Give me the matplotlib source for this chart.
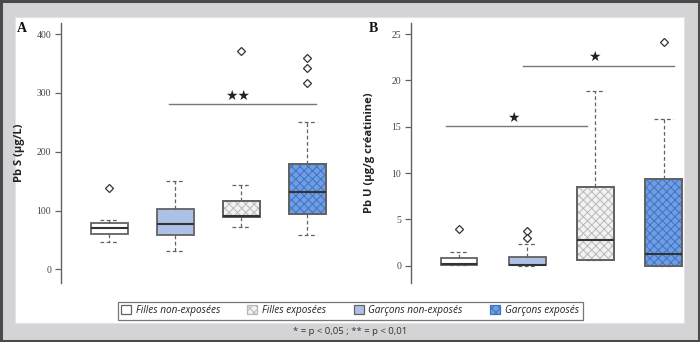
import matplotlib
matplotlib.use("Agg")
import matplotlib.pyplot as plt
from matplotlib.patches import Rectangle, Patch, PathPatch

# ---------------- data ----------------
categories = ["Filles non-exposées", "Garçons non-exposés", "Filles exposées", "Garçons exposés"]
legend_order = ["Filles non-exposées", "Filles exposées", "Garçons non-exposés", "Garçons exposés"]

# Panel A : Pb S (µg/L)
a_whislo = [46, 32, 73, 58]
a_q1 = [61, 58, 90, 94]
a_med = [70, 77, 91, 132]
a_q3 = [79, 103, 117, 180]
a_whishi = [84, 150, 143, 250]
a_fliers = [[138], [], [372], [359, 343, 317]]
a_yticks = [0, 100, 200, 300, 400]

# Panel B : Pb U (µg/g créatinine)
b_whislo = [0.05, 0.0, 0.65, 0.0]
b_q1 = [0.1, 0.05, 0.65, 0.0]
b_med = [0.15, 0.1, 2.77, 1.3]
b_q3 = [0.8, 0.94, 8.5, 9.34]
b_whishi = [1.5, 2.3, 18.86, 15.85]
b_fliers = [[4.0], [3.7, 3.0], [], [24.2]]
b_yticks = [0, 5, 10, 15, 20, 25]

# significance bars: (x_start, x_end, y, label, star_x, star_y)
a_sig = [(1.90, 4.126, 281, "★★", 2.95, 295)]
b_sig = [(0.81, 2.875, 15.05, "★", 1.79, 15.95), (1.935, 4.15, 21.6, "★", 2.98, 22.5)]

# ---------------- style ----------------
styles = {
    "Filles non-exposées": dict(fc="white", hatch=None, hc=None),
    "Garçons non-exposés": dict(fc="#adc0e6", hatch=None, hc=None),
    "Filles exposées": dict(fc="#f2f2f2", hatch="xxxx", hc="#b8b8b8"),
    "Garçons exposés": dict(fc="#6f9ee2", hatch="xxxx", hc="#3f72c6"),
}
EDGE = "#626262"
plt.rcParams["hatch.linewidth"] = 0.7

W, H = 700, 342
fig = plt.figure(figsize=(7, 3.42), dpi=100, facecolor="#d4d4d6")

# white panel and outer border
fig.patches.append(Rectangle((15 / W, 1 - 323 / H), (684 - 15) / W, (323 - 17) / H,
                             transform=fig.transFigure, facecolor="white",
                             edgecolor="#e4e4e4", lw=0.8, zorder=-10))
fig.patches.append(Rectangle((0.001, 0.002), 0.998, 0.996, transform=fig.transFigure,
                             facecolor="none", edgecolor="#4a4a4a", lw=2.2, zorder=10))


def make_axes(x0, x1):
    ax = fig.add_axes([x0 / W, 1 - 283 / H, (x1 - x0) / W, (283 - 23) / H])
    ax.set_zorder(1)
    ax.set_facecolor("none")
    for s in ["top", "right", "bottom"]:
        ax.spines[s].set_visible(False)
    ax.spines["left"].set_color(EDGE)
    ax.spines["left"].set_linewidth(1.0)
    return ax


def finish_axes(ax, xlim, ylim, yticks):
    ax.set_xlim(*xlim)
    ax.set_ylim(*ylim)
    ax.set_xticks([])
    ax.set_yticks(yticks)
    ax.tick_params(axis="y", direction="out", length=4, width=0.9, color=EDGE,
                   labelsize=7, labelcolor="#444444", pad=3)
    for lab in ax.get_yticklabels():
        lab.set_family("Liberation Serif")


def draw_panel(ax, whislo, q1, med, q3, whishi, fliers, width):
    stats = []
    for i in range(4):
        stats.append(dict(whislo=whislo[i], q1=q1[i], med=med[i], q3=q3[i],
                          whishi=whishi[i], fliers=fliers[i]))
    bp = ax.bxp(stats, positions=[1, 2, 3, 4], widths=width, patch_artist=True,
                showfliers=True,
                boxprops=dict(edgecolor=EDGE, linewidth=1.3),
                medianprops=dict(color="#333333", linewidth=1.5),
                whiskerprops=dict(color=EDGE, linewidth=0.9, linestyle=(0, (3, 2))),
                capprops=dict(color=EDGE, linewidth=0.9, linestyle=(0, (3, 2))),
                flierprops=dict(marker="D", markersize=4.2, markerfacecolor="white",
                                markeredgecolor="#333333", markeredgewidth=0.9,
                                linestyle="none"),
                capwidths=width * 0.5)
    for patch, cat in zip(bp["boxes"], categories):
        st = styles[cat]
        patch.set_facecolor(st["fc"])
        if st["hatch"]:
            path = patch.get_path()
            z = patch.get_zorder()
            ax.add_patch(PathPatch(path, facecolor="none", edgecolor=st["hc"],
                                   hatch=st["hatch"], linewidth=0, zorder=z + 0.1))
            ax.add_patch(PathPatch(path, facecolor="none", edgecolor=EDGE,
                                   linewidth=1.3, zorder=z + 0.2))
    for m in bp["medians"]:
        m.set_zorder(4)
    return bp


def draw_sig(ax, sigs):
    for x0, x1, y, lab, sx, sy in sigs:
        ax.plot([x0, x1], [y, y], color="#777777", lw=1.0)
        ax.text(sx, sy, lab, ha="center", va="center", fontsize=10,
                color="#222222", family="DejaVu Sans")


# ---- panel A ----
axA = make_axes(61, 340)
draw_panel(axA, a_whislo, a_q1, a_med, a_q3, a_whishi, a_fliers, 0.56)
draw_sig(axA, a_sig)
finish_axes(axA, (0.273, 4.495), (-23, 419), a_yticks)
axA.set_ylabel("Pb S (µg/L)", fontsize=8, fontweight="bold", family="Open Sans",
               color="#222222")
axA.yaxis.set_label_coords(-0.13, 0.5)

# ---- panel B ----
axB = make_axes(411, 684)
draw_panel(axB, b_whislo, b_q1, b_med, b_q3, b_whishi, b_fliers, 0.54)
draw_sig(axB, b_sig)
finish_axes(axB, (0.295, 4.30), (-1.86, 26.2), b_yticks)
axB.set_ylabel("Pb U (µg/g créatinine)", fontsize=8, fontweight="bold",
               family="Open Sans", color="#222222")
axB.yaxis.set_label_coords(-0.132, 0.5)

# panel letters
fig.text(22 / W, 1 - 29 / H, "A", fontsize=10, fontweight="bold",
         family="Liberation Serif", ha="center", va="center", color="#111111")
fig.text(373 / W, 1 - 29 / H, "B", fontsize=10, fontweight="bold",
         family="Liberation Serif", ha="center", va="center", color="#111111")

# legend
handles = []
for cat in legend_order:
    st = styles[cat]
    handles.append(Patch(facecolor=st["fc"], edgecolor=st["hc"] if st["hc"] else EDGE,
                         hatch=st["hatch"], linewidth=0.9, label=cat))
leg = fig.legend(handles=handles, loc="center", bbox_to_anchor=(350 / W, 1 - 310.5 / H),
                 ncol=4, frameon=True, fancybox=False, edgecolor="#555555",
                 prop=dict(family="Open Sans", style="italic", size=7.2),
                 handlelength=1.0, handleheight=1.0, handletextpad=0.5,
                 columnspacing=2.7, borderpad=0.35)
leg.get_frame().set_linewidth(0.9)
for t in leg.get_texts():
    t.set_color("#222222")

# footnote
fig.text(350 / W, 1 - 332 / H, "* = p < 0,05 ; ** = p < 0,01", fontsize=6.8,
         family="Open Sans", ha="center", va="center", color="#333333")

fig.savefig("out.png", dpi=100, facecolor=fig.get_facecolor())
